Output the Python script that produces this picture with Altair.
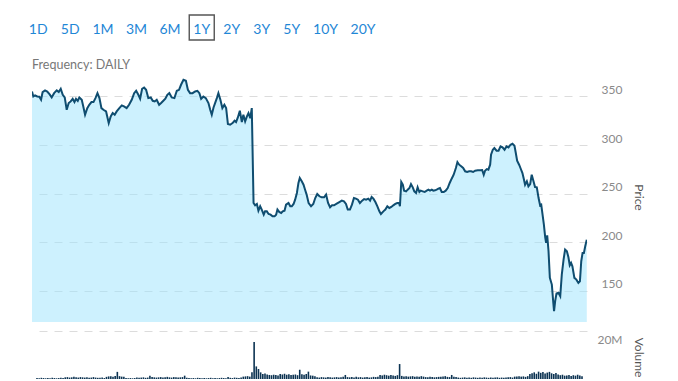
import altair as alt
import pandas as pd

# ---------------- data ----------------
buttons = ["1D", "5D", "1M", "3M", "6M", "1Y", "2Y", "3Y", "5Y", "10Y", "20Y"]
selected_button = "1Y"
frequency_text = "Frequency: DAILY"

price_ticks = [150, 200, 250, 300, 350]
volume_ticks = [20_000_000]

# trading-day position / closing price in four stretches
day_1 = [0.0, 0.6, 1.4, 2.4, 3.3, 4.1, 4.8, 5.9, 6.9, 7.9,
         8.9, 10.0, 11.2, 12.1, 13.0, 13.9, 14.8, 15.7, 16.6, 17.5,
         18.4, 19.2, 19.9, 20.7, 21.4, 22.5, 23.2, 24.0, 25.0, 25.9,
         26.9, 27.8, 28.7, 29.6, 30.5, 31.4, 32.3, 33.5, 34.7, 35.6,
         36.5, 37.4, 38.3, 39.5, 40.6, 41.6, 42.8, 43.9, 45.1, 46.2,
         47.1, 48.1, 48.9, 49.8, 50.7, 51.6, 52.6, 53.7, 54.6, 55.5,
         56.4, 57.5, 58.4, 59.4, 60.3, 61.2, 62.1]
price_1 = [355.1, 350.0, 351.0, 350.0, 349.7, 346.6, 354.5, 356.2, 355.1, 352.4,
           349.0, 353.4, 356.2, 354.5, 357.9, 351.7, 349.0, 336.3, 343.2, 344.9,
           347.6, 344.2, 347.6, 345.5, 349.0, 346.6, 339.7, 331.2, 338.0, 341.4,
           344.2, 344.2, 348.3, 353.4, 348.3, 338.0, 336.3, 334.6, 322.6, 329.5,
           332.9, 331.2, 334.6, 338.0, 340.8, 339.7, 338.0, 341.4, 346.6, 353.4,
           355.8, 351.7, 347.6, 357.9, 359.2, 356.8, 348.3, 349.0, 345.5, 344.9,
           346.6, 341.4, 343.2, 345.5, 347.6, 351.7, 353.4]

day_2 = [63.2, 64.4, 65.5, 66.5, 67.4, 68.5, 69.6, 70.5, 71.5, 72.6,
         73.8, 74.8, 75.7, 76.5, 77.5, 78.6, 79.8, 80.6, 81.3, 82.1,
         82.8, 83.6, 84.3, 85.2, 86.1, 87.0, 87.8, 88.6, 89.6, 90.7,
         91.6, 92.3, 93.1, 94.0, 94.9, 95.6, 96.4, 97.2, 97.9, 98.7,
         99.4, 100.2, 100.9, 101.7, 102.4, 103.2, 103.9, 104.8, 105.4, 106.2,
         107.0, 107.9, 108.8, 109.7, 110.4, 111.0, 111.8, 112.7, 113.4, 114.2,
         114.9, 116.0, 116.8, 117.5, 118.3, 119.0, 119.8, 120.5, 121.1, 122.0,
         122.8, 123.5]
price_2 = [349.0, 348.3, 355.8, 356.8, 362.0, 367.1, 366.1, 356.8, 353.4, 353.4,
           355.1, 355.8, 353.4, 347.6, 350.0, 348.3, 343.2, 336.3, 331.2, 338.7,
           343.2, 348.3, 353.4, 346.6, 338.0, 341.4, 338.0, 321.6, 320.9, 322.6,
           325.0, 323.6, 328.4, 335.3, 323.6, 331.2, 324.3, 329.5, 332.9, 327.7,
           338.0, 240.4, 238.0, 239.4, 232.5, 237.0, 233.6, 228.4, 231.8, 231.8,
           229.1, 228.4, 226.7, 226.7, 228.4, 233.6, 231.2, 230.1, 231.8, 232.5,
           238.7, 240.4, 237.0, 237.0, 239.4, 243.8, 250.7, 261.0, 266.1, 262.7,
           259.2, 254.1]

day_3 = [124.2, 125.1, 126.2, 127.2, 128.1, 129.0, 130.0, 131.0, 132.1, 133.0,
         133.9, 134.8, 135.7, 136.6, 137.8, 139.0, 140.1, 141.1, 142.0, 142.8,
         143.8, 144.7, 145.6, 146.5, 147.4, 148.3, 149.3, 150.2, 151.1, 152.1,
         152.9, 153.6, 154.4, 155.3, 156.2, 157.1, 157.8, 158.9, 159.8, 160.7,
         161.6, 162.5, 163.4, 164.3, 165.2, 166.0, 166.4, 167.0, 167.7, 168.3,
         169.2, 169.9, 170.7, 171.4, 172.2, 172.9, 173.7, 174.4, 175.2, 175.8,
         176.7, 177.6, 178.5, 179.3, 180.0, 180.8, 181.5, 182.3, 183.0, 183.8,
         184.5]
price_3 = [249.0, 240.4, 237.0, 239.4, 245.5, 249.7, 247.3, 246.2, 246.2, 249.0,
           240.4, 236.0, 238.0, 238.0, 239.7, 241.4, 242.8, 242.1, 239.4, 233.6,
           233.6, 238.7, 245.5, 244.9, 243.8, 240.4, 242.8, 244.5, 243.8, 244.9,
           242.8, 246.6, 244.9, 241.4, 237.0, 231.8, 229.1, 231.8, 233.6, 237.0,
           235.3, 236.3, 238.0, 239.4, 240.4, 240.4, 237.0, 262.0, 259.2, 253.1,
           252.4, 254.1, 255.8, 259.9, 256.5, 252.4, 250.7, 256.5, 251.7, 253.1,
           252.4, 251.7, 253.1, 254.1, 253.1, 254.1, 253.1, 253.4, 254.1, 255.1,
           255.8]

day_4 = [185.3, 186.2, 187.1, 188.0, 188.9, 189.8, 190.7, 191.7, 192.4, 193.2,
         194.1, 195.0, 195.9, 196.8, 197.7, 198.6, 199.5, 200.4, 201.6, 202.7,
         203.6, 204.3, 204.9, 205.7, 206.4, 207.2, 207.6, 208.4, 209.1, 210.1,
         211.0, 211.9, 212.8, 213.7, 214.6, 215.5, 216.4, 217.3, 218.2, 218.8,
         219.4, 220.3, 220.9, 221.8, 222.4, 223.0, 223.8, 224.5, 225.3, 226.0,
         226.8, 227.5, 228.3, 229.1, 229.8, 230.3, 230.9, 231.5, 232.1, 232.5,
         233.0, 233.6, 234.2, 235.1, 235.7, 236.1, 236.6, 237.2, 238.1, 238.9,
         239.6, 240.4, 241.1, 241.9, 242.6, 243.2, 243.8, 244.4, 245.3, 246.2,
         247.1, 247.8, 248.4, 249.0, 249.6, 250.2, 250.9]
price_4 = [251.7, 251.7, 253.1, 255.8, 261.0, 265.4, 269.5, 276.4, 282.5, 279.8,
           278.1, 276.4, 273.0, 272.3, 273.0, 273.0, 272.3, 273.6, 274.0, 274.0,
           274.3, 269.5, 273.6, 275.3, 274.7, 279.8, 290.1, 295.2, 296.9, 294.2,
           294.2, 298.6, 297.6, 295.2, 298.6, 297.6, 300.3, 301.4, 299.3, 291.8,
           283.9, 279.8, 276.4, 271.2, 265.4, 259.2, 262.7, 257.5, 259.9, 269.5,
           262.7, 256.8, 256.5, 245.5, 238.0, 238.7, 228.4, 218.2, 205.1, 199.3,
           207.2, 190.8, 163.4, 156.5, 139.4, 129.1, 139.4, 147.3, 148.0, 144.5,
           166.8, 182.2, 192.5, 190.8, 184.6, 176.4, 178.8, 175.3, 163.4, 161.6,
           158.2, 159.9, 180.5, 189.0, 189.0, 195.9, 202.7]

# daily volume in millions of shares, one per trading day
volume_m = [0.4, 0.3, 0.5, 0.4, 0.3, 0.4, 0.3, 0.5, 0.4, 0.3, 0.4, 0.5,
            0.4, 0.7, 0.8, 0.6, 0.7, 0.9, 0.7, 0.6, 0.8, 0.7, 0.6, 0.7,
            0.5, 0.6, 0.8, 0.6, 0.5, 0.5, 0.6, 0.4, 0.9, 1.1, 1.2, 1.0,
            1.3, 3.0, 1.2, 1.0, 0.9, 0.4, 0.3, 0.4, 0.3, 0.4, 0.6, 0.5,
            0.6, 0.7, 0.5, 0.6, 1.4, 0.8, 0.7, 0.6, 0.7, 0.8, 0.6, 0.7,
            0.9, 0.7, 0.6, 0.8, 0.7, 0.6, 0.7, 0.8, 1.4, 0.5, 0.4, 0.3,
            0.4, 0.3, 0.5, 0.4, 0.3, 0.4, 0.3, 0.4, 0.5, 0.3, 0.4, 0.3,
            0.4, 0.5, 0.4, 0.3, 0.8, 0.5, 0.4, 0.6, 0.5, 0.4, 0.6, 1.0,
            1.1, 1.2, 1.0, 2.8, 15.6, 5.3, 4.2, 2.8, 2.1, 2.3, 1.9, 1.7,
            1.6, 1.8, 1.7, 1.5, 2.1, 1.9, 2.2, 1.8, 2.0, 1.7, 1.8, 1.9,
            1.6, 3.9, 2.0, 1.8, 2.1, 3.1, 1.5, 1.4, 1.2, 0.7, 0.6, 0.8,
            0.7, 0.6, 0.8, 0.7, 0.6, 0.7, 0.8, 0.6, 0.7, 0.9, 1.7, 0.8,
            0.7, 0.8, 0.6, 0.9, 0.7, 0.8, 0.6, 0.7, 0.8, 0.6, 0.7, 0.9,
            0.8, 1.0, 1.7, 1.5, 1.8, 1.6, 1.4, 1.7, 1.5, 1.3, 1.6, 6.3,
            1.3, 1.1, 1.2, 1.0, 1.1, 1.2, 0.9, 1.1, 1.0, 1.2, 1.0, 0.8,
            0.7, 0.9, 0.8, 0.7, 0.8, 0.9, 1.0, 1.1, 1.2, 0.9, 0.8, 1.7,
            1.0, 0.8, 0.6, 0.5, 0.6, 0.7, 0.5, 0.6, 0.5, 0.7, 0.6, 0.5,
            0.6, 0.5, 0.7, 0.6, 0.5, 0.6, 0.5, 0.6, 0.7, 0.5, 0.6, 0.5,
            0.6, 0.7, 0.8, 0.6, 1.0, 1.1, 1.2, 1.0, 1.1, 0.9, 1.2, 2.1,
            2.4, 2.8, 2.2, 3.1, 2.6, 2.9, 2.3, 2.7, 3.0, 2.4, 2.1, 2.5,
            1.9, 1.6, 1.8, 1.4, 1.5, 1.7, 1.3, 1.6, 1.4, 1.8, 1.5, 1.2]

# ---------------- tables ----------------
price_df = pd.DataFrame({
    "day": day_1 + day_2 + day_3 + day_4,
    "price": price_1 + price_2 + price_3 + price_4,
})
vol_df = pd.DataFrame({
    "day": list(range(len(volume_m))),
    "volume": [v * 1_000_000 for v in volume_m],
})

# header button layout: centres from approximate glyph widths
W = 555
char_w = {"D": 9.0, "M": 10.5, "Y": 7.0}
def text_width(s):
    return sum(char_w.get(c, 7.5) for c in s)

centres = []
cur = -2.0
for b in buttons:
    w = text_width(b)
    centres.append(cur + w / 2)
    cur += w + 15.5
hdr_df = pd.DataFrame({"label": buttons, "pos": centres})
freq_df = pd.DataFrame({"label": [frequency_text], "pos": [0]})

FONT = "Lato"
BLUE = "#1f87d6"
hx = alt.Scale(domain=[0, W], nice=False, zero=False)

btn_text = alt.Chart(hdr_df).mark_text(
    font=FONT, fontSize=14, color=BLUE, align="center", baseline="middle"
).encode(x=alt.X("pos:Q", scale=hx, axis=None), y=alt.value(22), text="label:N")

btn_box = alt.Chart(hdr_df).transform_filter(
    alt.datum.label == selected_button
).mark_point(
    shape="square", size=625, filled=False, stroke="#555555", strokeWidth=1.4, opacity=1
).encode(x=alt.X("pos:Q", scale=hx, axis=None), y=alt.value(19.5))

freq = alt.Chart(freq_df).mark_text(
    font=FONT, fontSize=12.5, color="#777777", align="left", baseline="middle"
).encode(x=alt.X("pos:Q", scale=hx, axis=None), y=alt.value(57), text="label:N")

header = alt.layer(btn_text, btn_box, freq).properties(width=W, height=69)

# price panel
xscale = alt.Scale(domain=[0, 251], nice=False, zero=False)
yscale = alt.Scale(domain=[118, 370], nice=False, zero=False)

price_axis = alt.Axis(
    orient="right", values=price_ticks, grid=True, gridDash=[8, 7],
    gridColor="#dcdcdc", gridWidth=1, domain=False, ticks=False,
    labelPadding=35, labelAlign="right", labelBaseline="bottom",
    labelFont=FONT, labelFontSize=12, labelColor="#8a8a8a",
    title="Price", titleFont=FONT, titleFontSize=12, titleFontWeight="normal",
    titleColor="#555555", titlePadding=9, titleY=120,
)

pbase = alt.Chart(price_df).encode(x=alt.X("day:Q", scale=xscale, axis=None))
area = pbase.mark_area(fill="#9be3fd", fillOpacity=0.5, clip=True).encode(
    y=alt.Y("price:Q", scale=yscale, axis=price_axis)
)
line = pbase.mark_line(color="#0f4d70", strokeWidth=2, clip=True).encode(
    y=alt.Y("price:Q", scale=yscale)
)
price_chart = alt.layer(area, line).properties(width=W, height=245)

# volume panel
vol_axis = alt.Axis(
    orient="right", values=volume_ticks, grid=True, gridDash=[8, 7],
    gridColor="#dcdcdc", domain=False, ticks=False,
    labelPadding=35, labelAlign="right", labelBaseline="top", labelOffset=3,
    labelExpr="format(datum.value / 1000000, 'd') + 'M'",
    labelFont=FONT, labelFontSize=12, labelColor="#8a8a8a",
    title="Volume", titleFont=FONT, titleFontSize=12, titleFontWeight="normal",
    titleColor="#555555", titlePadding=9, titleY=35,
)
vol_chart = alt.Chart(vol_df).mark_bar(color="#0c3352", size=1.6, clip=True).encode(
    x=alt.X("day:Q", scale=xscale, axis=None),
    y=alt.Y("volume:Q", scale=alt.Scale(domain=[0, 24_000_000], nice=False), axis=vol_axis),
).properties(width=W, height=57)

chart = alt.vconcat(header, price_chart, vol_chart, spacing=0, bounds="flush").properties(
    padding={"left": 20, "top": 0, "right": 10, "bottom": 0}
).configure_view(stroke=None)

chart.save("out.html", embed_options={"renderer": "svg", "actions": False})
